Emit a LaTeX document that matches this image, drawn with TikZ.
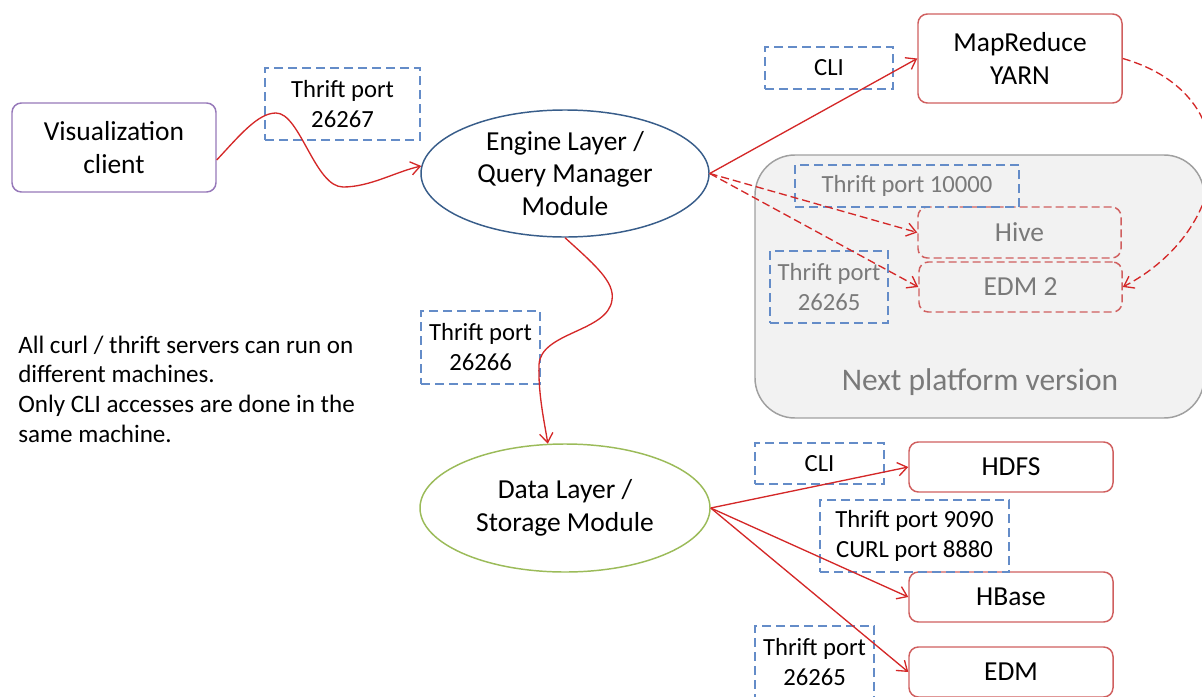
\documentclass[tikz,border=0pt]{standalone}
\usepackage{fontspec}
\setmainfont{Carlito}
\usetikzlibrary{arrows.meta,calc,shapes.geometric}

\definecolor{linkred}{RGB}{212,40,40}
\definecolor{boxred}{RGB}{208,95,95}
\definecolor{tagblue}{RGB}{100,140,200}
\definecolor{engineblue}{RGB}{56,93,138}
\definecolor{datagreen}{RGB}{155,187,89}
\definecolor{clientpurple}{RGB}{150,120,185}
\definecolor{panelfill}{RGB}{242,242,242}
\definecolor{panelline}{RGB}{160,160,160}
\definecolor{dimtext}{RGB}{122,122,122}

\tikzset{
  bigfont/.style={font=\fontsize{20.6}{24.6}\selectfont},
  smallfont/.style={font=\fontsize{18.5}{22.5}\selectfont},
  comp/.style={draw=boxred, line width=1.1pt, rounded corners=7pt, inner sep=0pt,
    align=center, bigfont, minimum width=153pt, minimum height=37.5pt},
  futurecomp/.style={comp, dash pattern=on 6pt off 3pt, text=dimtext},
  tag/.style={draw=tagblue, dash pattern=on 7pt off 3.5pt, line width=0.9pt,
    inner sep=0pt, align=center, smallfont},
  layer/.style={shape=ellipse, line width=1.1pt, inner sep=0pt},
  link/.style={draw=linkred, line width=1pt, -{Straight Barb[length=7pt,width=10pt]}},
  futurelink/.style={link, dash pattern=on 6pt off 3pt},
}

\begin{document}
\begin{tikzpicture}[x=0.75pt,y=-0.75pt]
\useasboundingbox (0,0) rectangle (1202,696);

% area holding the components planned for the next release
\draw[fill=panelfill, draw=panelline, line width=1.1pt, rounded corners=30pt]
  (755,155) rectangle (1204,418);
\node[font=\fontsize{23.6}{28}\selectfont, text=dimtext] (nextlabel) at (980,382) {Next platform version};

% client
\node[draw=clientpurple, line width=1.1pt, rounded corners=7pt, inner sep=0pt,
  minimum width=153pt, minimum height=66.75pt, align=center, bigfont]
  (vis) at (114,147.5) {Visualization\\client};

% layers
\node[layer, draw=engineblue, minimum width=216pt, minimum height=95.25pt] (eng) at (565,173.5) {};
\node[bigfont, align=center] (engtext) at (eng) {Engine Layer /\\Query Manager\\Module};
\node[layer, draw=datagreen, minimum width=217.5pt, minimum height=96pt] (data) at (565,508) {};
\node[bigfont, align=center] (datatext) at (data) {Data Layer /\\Storage Module};

% back-end components
\node[comp, minimum height=66.75pt] (mr) at (1020,58.5) {MapReduce\\YARN};
\node[futurecomp, minimum width=152.25pt, minimum height=38.25pt] (hive) at (1019.5,232.5) {Hive};
\node[futurecomp, minimum width=152.25pt] (edmtwo) at (1020.5,287) {EDM 2};
\node[comp] (hdfs) at (1011,467) {HDFS};
\node[comp] (hbase) at (1011,597) {HBase};
\node[comp] (edm) at (1011,672) {EDM};

% access method tags
\node[tag, minimum width=116.25pt, minimum height=54pt] (t26267) at (342.5,104) {Thrift port\\26267};
\node[tag, minimum width=96pt, minimum height=31.5pt] (clitop) at (829,68) {CLI};
\node[tag, minimum width=168pt, minimum height=31.5pt, text=dimtext] (t10000) at (907,186) {Thrift port 10000};
\node[tag, minimum width=88.5pt, minimum height=54pt, text=dimtext] (t26265a) at (829,287) {Thrift port\\26265};
\node[tag, minimum width=89.25pt, minimum height=54.75pt] (t26266) at (480.5,347.5) {Thrift port\\26266};
\node[tag, minimum width=96.75pt, minimum height=30.75pt] (clibot) at (819.5,463.5) {CLI};
\node[tag, minimum width=141.75pt, minimum height=54pt] (t9090) at (914.5,536) {Thrift port 9090\\CURL port 8880};
\node[tag, minimum width=89.25pt, minimum height=54pt] (t26265b) at (814.5,662) {Thrift port\\26265};

% note
\node[anchor=west, align=left, inner sep=0pt, font=\fontsize{18.8}{22.2}\selectfont] (note) at (18,389)
  {All curl / thrift servers can run on\\different machines.\\Only CLI accesses are done in the\\same machine.};

% connections
\draw[link] ($(vis.east)+(0,12.5)$) .. controls (240,135) and (258,113) .. (276,113)
  .. controls (300,113) and (315,187) .. (343,187)
  .. controls (370,187) and (395,172) .. (eng.177);
\draw[link] (eng.south) .. controls (595,265) and (615,282) .. (612,300)
  .. controls (608,332) and (540,332) .. (539,365)
  .. controls (538,395) and (545,425) .. (data.105);
\draw[link] (eng.east) -- (mr.west);
\draw[futurelink] (eng.east) -- (hive.west);
\draw[futurelink] (eng.east) -- (edmtwo.west);
\draw[futurelink] (mr.east) .. controls (1250,95) and (1232,230) .. (edmtwo.east);
\draw[link] (data.east) -- (hdfs.west);
\draw[link] (data.east) -- (hbase.west);
\draw[link] (data.east) -- (edm.west);
\end{tikzpicture}
\end{document}
